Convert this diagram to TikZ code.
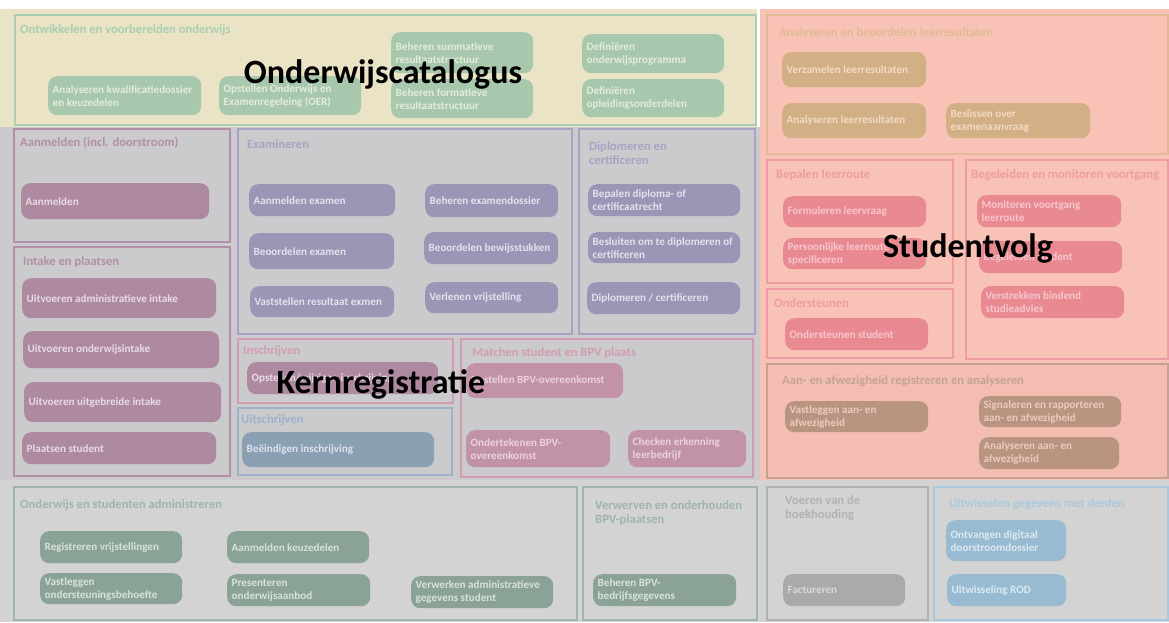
\documentclass[tikz,border=0pt]{standalone}
\usepackage{fontspec}
\setmainfont{Carlito}

% background areas
\definecolor{bgBeige}{HTML}{EAE3C5}
\definecolor{bgPink}{HTML}{F8C3B6}
\definecolor{bgAbs}{HTML}{F3BDB1}
\definecolor{bgKern}{HTML}{CBCACD}
\definecolor{bgLow}{HTML}{D3D3D3}
% frame (f), box (n) and box text (t) colours per group
\definecolor{fGrn}{HTML}{AACEB2}\definecolor{nGrn}{HTML}{A8C8AE}\definecolor{tGrn}{HTML}{E3ECD9}
\definecolor{fTan}{HTML}{E2BA94}\definecolor{nTan}{HTML}{D3AF85}\definecolor{tTan}{HTML}{F3DAC4}
\definecolor{fRose}{HTML}{EE9CA3}\definecolor{nRose}{HTML}{E98A93}\definecolor{tRose}{HTML}{F7C6CB}
\definecolor{fBrn}{HTML}{C2A396}\definecolor{nBrn}{HTML}{B99481}\definecolor{tBrn}{HTML}{EBCBBE}
\definecolor{fPlum}{HTML}{B28FA6}\definecolor{nPlum}{HTML}{AE8AA0}\definecolor{tPlum}{HTML}{E9DAE4}
\definecolor{fLav}{HTML}{A8A3C4}\definecolor{nLav}{HTML}{9C96B6}\definecolor{tLav}{HTML}{E4E1EE}
\definecolor{fMauve}{HTML}{D29DB2}\definecolor{nMauve}{HTML}{C293A8}\definecolor{tMauve}{HTML}{EBD2DD}
\definecolor{fSlate}{HTML}{9DB1C8}\definecolor{nSlate}{HTML}{8CA0B4}\definecolor{tSlate}{HTML}{DCE3EC}
\definecolor{fSage}{HTML}{9EB5AA}\definecolor{nSage}{HTML}{8BA396}\definecolor{tSage}{HTML}{D8E2DC}
\definecolor{fGray}{HTML}{B2B2B2}\definecolor{nGray}{HTML}{AAAAAA}\definecolor{tGray}{HTML}{D8D8D8}
\definecolor{fBlue}{HTML}{A9C9DF}\definecolor{nBlue}{HTML}{98BBD1}\definecolor{tBlue}{HTML}{DCEAF2}

\tikzset{
  act/.style={rounded corners=9pt, inner sep=0pt, anchor=north west},
  acttext/.style={anchor=west, xshift=4.5pt, inner sep=0pt, align=left,
              font=\fontsize{11.1}{13}\selectfont\bfseries},
  frame/.style={line width=1.1pt},
  ttl/.style={anchor=base west, inner sep=0pt, align=left,
              font=\fontsize{12.6}{14}\selectfont\bfseries},
  big/.style={anchor=base, inner sep=0pt, text=black,
              font=\fontsize{34}{40}\selectfont\bfseries},
}

% activity box: name, left, top, right, bottom, colour group, text (left aligned inside)
\newcommand\actbox[7]{%
  \pgfmathsetmacro\actW{#4-#2}%
  \pgfmathsetmacro\actH{#5-#3}%
  \node[act,fill=n#6,minimum width=\actW pt,minimum height=\actH pt,
        label={[acttext,text=t#6]west:{#7}}] (#1) at (#2,#3) {};}

\begin{document}
\begin{tikzpicture}[x=1pt,y=-1pt]
\useasboundingbox (0,0) rectangle (1169,622);
\fill[white] (0,0) rectangle (1169,622);

% coloured areas
\fill[bgBeige] (0,9) rectangle (757,127);
\fill[bgPink] (760,9) rectangle (1169,480);
\fill[bgKern] (0,127) rectangle (760,480);
\fill[bgLow] (0,480) rectangle (1169,622);

% ---------- Onderwijscatalogus ----------
\draw[frame, draw=fGrn] (15,15) rectangle (756,125);
\node[ttl, text=fGrn] (tOnt) at (20,33) {Ontwikkelen en voorbereiden onderwijs};
\actbox{a1}{48}{76}{201}{115}{Grn}{Analyseren kwalificatiedossier\\en keuzedelen}
\actbox{a2}{219}{76}{361}{115}{Grn}{Opstellen Onderwijs en\\Examenregeleing (OER)}
\actbox{a3}{391}{32}{533}{73}{Grn}{Beheren summatieve\\resultaatstructuur}
\actbox{a4}{391}{79}{533}{118}{Grn}{Beheren formatieve\\resultaatstructuur}
\actbox{a5}{582}{34}{724}{73}{Grn}{Definiëren\\onderwijsprogramma}
\actbox{a6}{582}{79}{724}{117}{Grn}{Definiëren\\opleidingsonderdelen}

% ---------- Studentvolg ----------
\draw[frame, draw=fTan] (767,15) rectangle (1168,154);
\node[ttl, text=fTan] (tAnl) at (779,36) {Analyseren en beoordelen leerresultaten};
\actbox{b1}{782}{52}{926}{87}{Tan}{Verzamelen leerresultaten}
\actbox{b2}{782}{103}{926}{138}{Tan}{Analyseren leerresultaten}
\actbox{b3}{946}{103}{1090}{138}{Tan}{Beslissen over\\examenaanvraag}

\draw[frame, draw=fRose] (767,160) rectangle (953,283);
\node[ttl, text=fRose] (tBep) at (776,178) {Bepalen leerroute};
\actbox{c1}{783}{196}{926}{227}{Rose}{Formuleren leervraag}
\actbox{c2}{783}{238}{926}{269}{Rose}{Persoonlijke leerroute\\specificeren}

\draw[frame, draw=fRose] (767,289) rectangle (953,358);
\node[ttl, text=fRose] (tOnd) at (774,307) {Ondersteunen};
\actbox{c3}{785}{318}{928}{350}{Rose}{Ondersteunen student}

\draw[frame, draw=fRose] (966,160) rectangle (1168,359);
\node[ttl, text=fRose] (tBeg) at (971,178) {Begeleiden en monitoren voortgang};
\actbox{c4}{977}{195}{1121}{227}{Rose}{Monitoren voortgang\\leerroute}
\actbox{c5}{979}{241}{1122}{273}{Rose}{Begeleiden student}
\actbox{c6}{981}{286}{1124}{318}{Rose}{Verstrekken bindend\\studieadvies}

\fill[bgAbs] (767,364) rectangle (1168,478);
\draw[frame, draw=fBrn] (767,364) rectangle (1168,478);
\node[ttl, text=fBrn] (tAan) at (782,384) {Aan- en afwezigheid registreren en analyseren};
\actbox{d1}{785}{401}{928}{432}{Brn}{Vastleggen aan- en\\afwezigheid}
\actbox{d2}{979}{396}{1121}{427}{Brn}{Signaleren en rapporteren\\aan- en afwezigheid}
\actbox{d3}{979}{437}{1119}{469}{Brn}{Analyseren aan- en\\afwezigheid}

% ---------- Kernregistratie ----------
\draw[frame, draw=fPlum] (14,129) rectangle (230,242);
\node[ttl, text=fPlum] (tAanm) at (20,146) {Aanmelden (incl. doorstroom)};
\actbox{e1}{21}{183}{209}{219}{Plum}{Aanmelden}

\draw[frame, draw=fPlum] (14,247) rectangle (230,476);
\node[ttl, text=fPlum] (tInt) at (23,265) {Intake en plaatsen};
\actbox{e2}{22}{278}{216}{318}{Plum}{Uitvoeren administratieve intake}
\actbox{e3}{23}{331}{219}{368}{Plum}{Uitvoeren onderwijsintake}
\actbox{e4}{24}{382}{221}{422}{Plum}{Uitvoeren uitgebreide intake}
\actbox{e5}{22}{432}{216}{464}{Plum}{Plaatsen student}

\draw[frame, draw=fLav] (238,129) rectangle (572,334);
\node[ttl, text=fLav] (tExa) at (247,148) {Examineren};
\actbox{f1}{249}{184}{395}{216}{Lav}{Aanmelden examen}
\actbox{f2}{425}{184}{558}{217}{Lav}{Beheren examendossier}
\actbox{f3}{249}{233}{394}{269}{Lav}{Beoordelen examen}
\actbox{f4}{424}{232}{558}{264}{Lav}{Beoordelen bewijsstukken}
\actbox{f5}{250}{286}{394}{317}{Lav}{Vaststellen resultaat exmen}
\actbox{f6}{425}{282}{558}{313}{Lav}{Verlenen vrijstelling}

% two-line titles are placed by the baseline of their last line
\draw[frame, draw=fLav] (579,129) rectangle (755,334);
\node[ttl, text=fLav] (tDip) at (589,164) {Diplomeren en\\certificeren};
\actbox{g1}{588}{184}{740}{216}{Lav}{Bepalen diploma- of\\certificaatrecht}
\actbox{g2}{588}{232}{740}{263}{Lav}{Besluiten om te diplomeren of\\certificeren}
\actbox{g3}{587}{282}{740}{314}{Lav}{Diplomeren / certificeren}

\draw[frame, draw=fMauve] (238,339) rectangle (453,403);
\node[ttl, text=fMauve] (tIns) at (243,354) {Inschrijven};
\actbox{h1}{247}{362}{438}{394}{Plum}{Opstellen/wijzigen inschrijving}

\draw[frame, draw=fSlate] (238,408) rectangle (452,475);
\node[ttl, text=fSlate] (tUit) at (241,423) {Uitschrijven};
\actbox{h2}{242}{432}{434}{467}{Slate}{Beëindigen inschrijving}

\draw[frame, draw=fMauve] (461,339) rectangle (753,477);
\node[ttl, text=fMauve] (tMat) at (472,356) {Matchen student en BPV plaats};
\actbox{i1}{466}{363}{623}{398}{Mauve}{Opstellen BPV-overeenkomst}
\actbox{i2}{466}{430}{610}{467}{Mauve}{Ondertekenen BPV-\\overeenkomst}
\actbox{i3}{628}{430}{746}{467}{Mauve}{Checken erkenning\\leerbedrijf}

% ---------- lower band ----------
\draw[frame, draw=fSage] (14,487) rectangle (577,620);
\node[ttl, text=fSage] (tAdm) at (20,508) {Onderwijs en studenten administreren};
\actbox{j1}{40}{531}{182}{563}{Sage}{Registreren vrijstellingen}
\actbox{j2}{227}{531}{369}{563}{Sage}{Aanmelden keuzedelen}
\actbox{j3}{40}{573}{182}{604}{Sage}{Vastleggen\\ondersteuningsbehoefte}
\actbox{j4}{227}{574}{370}{606}{Sage}{Presenteren\\onderwijsaanbod}
\actbox{j5}{411}{576}{553}{608}{Sage}{Verwerken administratieve\\gegevens student}

\draw[frame, draw=fSage] (583,487) rectangle (757,620);
\node[ttl, text=fSage] (tVer) at (595,523) {Verwerven en onderhouden\\BPV-plaatsen};
\actbox{k1}{593}{574}{736}{606}{Sage}{Beheren BPV-\\bedrijfsgegevens}

\draw[frame, draw=fGray] (767,487) rectangle (928,620);
\node[ttl, text=fGray] (tBoe) at (785,518) {Voeren van de\\boekhouding};
\actbox{l1}{783}{574}{905}{606}{Gray}{Factureren}

\draw[frame, draw=fBlue] (934,487) rectangle (1168,620);
\node[ttl, text=fBlue] (tDer) at (949,507) {Uitwisselen gegevens met derden};
\actbox{m1}{946}{520}{1066}{561}{Blue}{Ontvangen digitaal\\doorstroomdossier}
\actbox{m2}{947}{574}{1066}{606}{Blue}{Uitwisseling ROD}

% ---------- domain labels ----------
\node[big] (lCat) at (383,83) {Onderwijscatalogus};
\node[big] (lStu) at (968,257) {Studentvolg};
\node[big] (lKern) at (381,393) {Kernregistratie};
\end{tikzpicture}
\end{document}
